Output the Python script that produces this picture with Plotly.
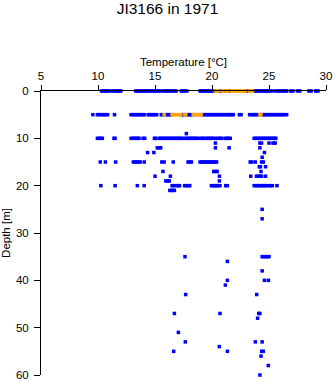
import plotly.graph_objects as go

# Temperature readings (°C) per depth (m), blue = regular, orange = flagged
blue_d0 = [10.3, 10.45, 10.6, 10.75, 10.9, 11.05, 11.3, 11.45, 11.6, 11.75, 11.9, 12.0,
           13.3, 13.45, 13.6, 13.75, 13.9, 14.05, 14.2, 14.35, 14.5, 14.65, 14.85, 15.0, 15.15,
           15.3, 15.5, 15.7, 15.9, 16.05, 16.2, 16.35, 16.5, 16.7, 16.85, 17.3, 17.45, 17.6, 17.8,
           18.95, 19.1, 19.25, 19.4, 19.5, 19.65, 19.8, 19.95, 20.1, 20.25, 20.65, 20.75,
           21.05, 21.15, 21.5, 22.4, 23.0, 23.15, 23.6, 23.75, 23.9, 24.05, 24.2, 24.35, 24.5,
           24.65, 24.8, 24.95, 25.1, 25.3, 25.6, 25.8, 25.97, 26.15, 26.3, 26.45, 26.55,
           26.9, 27.1, 27.5, 27.7, 28.5, 28.7, 29.1, 29.3]
orange_d0 = [20.3, 20.45, 20.55, 20.9, 21.0, 21.25, 21.4, 21.75, 21.9, 22.05, 22.2, 22.35,
             22.5, 22.65, 22.8, 22.95, 23.3, 23.45, 23.55]
blue_d5 = [9.55, 9.95, 10.1, 10.25, 10.4, 10.55, 10.7, 10.85, 11.45, 12.9, 13.05, 13.2, 13.35,
           13.5, 13.65, 13.8, 13.95, 14.05, 14.4, 14.55, 14.7, 14.85, 15.0, 15.15, 15.55, 15.65,
           15.95, 16.1, 16.25, 16.4, 17.4, 17.5, 17.8, 17.95, 18.1, 18.25, 19.15, 19.3, 19.45,
           19.6, 19.75, 19.9, 20.05, 20.2, 20.35, 20.5, 20.65, 20.8, 20.95, 21.15, 21.3, 21.45,
           21.6, 21.75, 21.87, 22.4, 22.55, 23.3, 23.45, 23.6, 23.75, 23.9, 24.05, 24.4, 24.55,
           24.7, 24.85, 25.0, 25.15, 25.3, 25.45, 25.6, 25.75, 25.9, 26.05, 26.2, 26.35, 26.55]
orange_d5 = [15.8, 16.5, 16.65, 16.8, 16.95, 17.1, 17.25, 17.6, 17.7, 18.35, 18.5, 18.65,
             18.8, 18.95, 19.05, 24.2, 24.3]
blue_d9 = [17.75]
blue_d10 = [9.95, 10.1, 10.25, 10.38, 11.4, 11.5, 12.9, 13.05, 13.2, 13.35, 13.5, 13.6, 13.95, 14.1,
            14.95, 15.05, 15.35, 15.5, 15.65, 15.8, 15.95, 16.1, 16.25, 16.4, 16.55, 16.7, 16.85,
            17.0, 17.15, 17.3, 17.45, 17.7, 17.85, 18.0, 18.15, 18.3, 18.45, 18.6, 18.75,
            19.0, 19.15, 19.3, 19.5, 19.65, 19.8, 19.95, 20.1, 20.3, 20.55, 20.7, 20.85,
            21.15, 21.3, 21.45, 21.6, 23.7, 23.85, 24.0, 24.15, 24.3, 24.45, 24.6, 24.75,
            24.9, 25.05, 25.2, 25.35, 25.5, 25.6]
blue_d11 = [20.3, 24.2, 24.35, 25.0, 25.35, 25.55]
blue_d12 = [15.2, 15.35, 15.5, 20.3, 21.5, 24.2]
blue_d13 = [14.35, 14.9, 24.6]
blue_d14 = [24.4]
blue_d15 = [10.2, 10.65, 11.55, 13.1, 13.25, 13.4, 13.55, 13.7, 14.05, 15.6, 15.8, 16.6,
            17.9, 18.05, 18.2, 18.95, 19.1, 19.25, 19.4, 19.55, 19.7, 19.85, 20.0, 20.15,
            20.3, 20.4, 23.35, 23.5, 23.8, 24.35, 24.5]
blue_d16 = [24.15, 24.25, 24.7]
blue_d17 = [15.7, 20.15, 20.3, 20.45, 24.3]
blue_d18 = [15.0, 16.35, 20.65, 23.4, 23.9, 24.05, 24.2, 24.35, 24.7]
blue_d19 = [15.95, 16.1, 16.25, 20.65]
blue_d20 = [10.25, 11.5, 13.45, 14.05, 16.5, 16.65, 16.9, 17.05, 17.15, 17.6, 17.75, 17.9,
            18.05, 19.95, 20.1, 20.25, 20.4, 20.55, 20.7, 21.2, 21.35, 23.7, 23.85, 24.0,
            24.15, 24.3, 24.45, 24.6, 24.7, 24.95, 25.1, 25.3, 25.7]
blue_d21 = [16.3, 16.45, 16.6, 16.7]
blue_d25 = [24.4]
blue_d27 = [24.4]
blue_d35 = [17.63, 24.4, 24.55, 24.7, 24.85, 25.0]
blue_d36 = [21.35]
blue_d38 = [24.4]
blue_d40 = [21.35, 24.6, 24.95]
blue_d41 = [21.17]
blue_d43 = [17.69, 23.92]
blue_d47 = [16.7, 20.7, 24.1, 24.2]
blue_d48 = [24.0]
blue_d51 = [17.05]
blue_d53 = [17.66, 23.8, 24.4]
blue_d54 = [20.64]
blue_d55 = [16.64, 21.35, 24.36, 24.5]
blue_d56 = [24.3]
blue_d58 = [24.94]
blue_d60 = [24.2]

blue_rows = [(0, blue_d0), (5, blue_d5), (9, blue_d9), (10, blue_d10), (11, blue_d11),
             (12, blue_d12), (13, blue_d13), (14, blue_d14), (15, blue_d15), (16, blue_d16),
             (17, blue_d17), (18, blue_d18), (19, blue_d19), (20, blue_d20), (21, blue_d21),
             (25, blue_d25), (27, blue_d27), (35, blue_d35), (36, blue_d36), (38, blue_d38),
             (40, blue_d40), (41, blue_d41), (43, blue_d43), (47, blue_d47), (48, blue_d48),
             (51, blue_d51), (53, blue_d53), (54, blue_d54), (55, blue_d55), (56, blue_d56),
             (58, blue_d58), (60, blue_d60)]
orange_rows = [(0, orange_d0), (5, orange_d5)]

x_ticks = [5, 10, 15, 20, 25, 30]
y_ticks = [0, 10, 20, 30, 40, 50, 60]


def flatten(rows):
    xs, ys = [], []
    for d, temps in rows:
        for t in temps:
            xs.append(t)
            ys.append(d)
    return xs, ys


bx, by = flatten(blue_rows)
ox, oy = flatten(orange_rows)

fig = go.Figure()
fig.add_trace(go.Scatter(x=bx, y=by, mode="markers", cliponaxis=False,
                         marker=dict(symbol="square", size=3.5, color="#0000ff", line=dict(width=0)),
                         showlegend=False))
fig.add_trace(go.Scatter(x=ox, y=oy, mode="markers", cliponaxis=False,
                         marker=dict(symbol="square", size=3.5, color="#ffa500", line=dict(width=0)),
                         showlegend=False))

font = "Liberation Sans, Arial, Helvetica, sans-serif"
fig.update_layout(
    width=335, height=384,
    margin=dict(l=41, r=9, t=91, b=9, autoexpand=False),
    paper_bgcolor="white", plot_bgcolor="white",
    font=dict(family=font, size=11, color="black"),
    title=dict(text="JI3166 in 1971", x=0.5, xanchor="center", y=1 - 9 / 384,
               yanchor="middle", font=dict(size=15.5, color="black")),
    xaxis=dict(range=[5, 30], side="top", tickvals=x_ticks, ticks="outside", ticklen=5,
               tickwidth=1, tickcolor="black", showline=True, linecolor="black", linewidth=1,
               showgrid=False, zeroline=False, tickfont=dict(size=11.5),
               title=dict(text="Temperature [°C]", font=dict(size=11.5), standoff=1)),
    yaxis=dict(range=[60, 0], tickvals=y_ticks, ticks="outside", ticklen=6, tickwidth=1,
               tickcolor="black", showline=True, linecolor="black", linewidth=1,
               showgrid=False, zeroline=False, tickfont=dict(size=11.5), ticklabelstandoff=3,
               title=dict(text="Depth [m]", font=dict(size=11.5), standoff=4)),
)

fig.write_html("out.html")
